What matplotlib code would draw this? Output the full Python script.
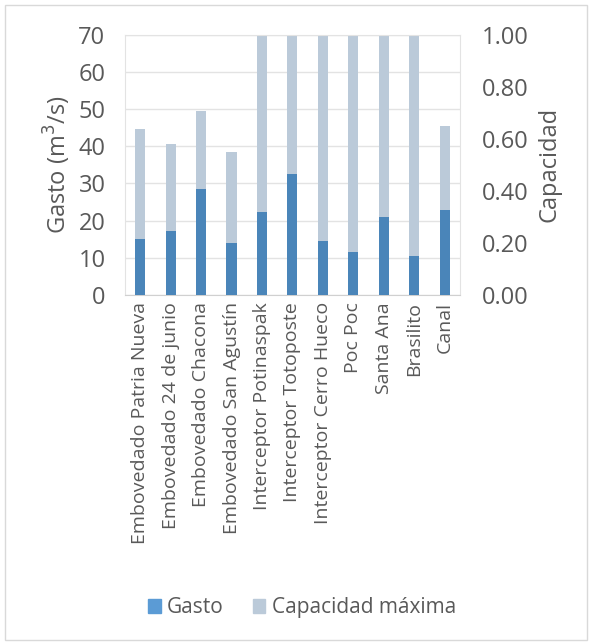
import matplotlib.pyplot as plt
from matplotlib.patches import Patch, Rectangle

plt.rcParams['font.family'] = ['Open Sans', 'DejaVu Sans']

categorias = ['Embovedado Patria Nueva', 'Embovedado 24 de junio', 'Embovedado Chacona',
              'Embovedado San Agustín', 'Interceptor Potinaspak', 'Interceptor Totoposte',
              'Interceptor Cerro Hueco', 'Poc Poc', 'Santa Ana', 'Brasilito', 'Canal']
gasto = [15.1, 17.1, 28.6, 14.0, 22.3, 32.5, 14.6, 11.5, 21.0, 10.5, 22.8]
capacidad_maxima = [44.7, 40.6, 49.6, 38.5, 70, 70, 70, 70, 70, 70, 45.4]

c_gasto = '#4A85B9'
c_cap = '#BBCAD9'
txt = '#595959'

fig = plt.figure(figsize=(5.92, 6.44), dpi=100)
ax = fig.add_axes([0.211, 0.542, 0.566, 0.404])
x = range(len(categorias))
ax.bar(x, capacidad_maxima, width=0.33, color=c_cap, zorder=2)
ax.bar(x, gasto, width=0.33, color=c_gasto, zorder=3)
ax.set_ylim(0, 70)
ax.set_xlim(-0.5, len(categorias) - 0.5)
ax.set_yticks(range(0, 71, 10))
ax.yaxis.grid(True, color='#E3E3E3', lw=1, zorder=0)
ax.set_axisbelow(True)
ax.set_xticks(list(x))
ax.set_xticklabels(categorias, rotation=90, fontsize=14, color=txt)
ax.tick_params(axis='y', labelsize=17, colors=txt, length=0, pad=14)
ax.tick_params(axis='x', length=0, pad=5)
ax.set_ylabel('Gasto (m$^3$/s)', fontsize=17, color=txt, labelpad=4)
for s in ax.spines.values():
    s.set_color('#E3E3E3')
ax.spines['bottom'].set_color('#D0D0D0')

ax2 = ax.twinx()
ax2.set_ylim(0, 1)
ax2.set_yticks([0, 0.2, 0.4, 0.6, 0.8, 1.0])
ax2.set_yticklabels(['0.00', '0.20', '0.40', '0.60', '0.80', '1.00'])
ax2.tick_params(axis='y', labelsize=17, colors=txt, length=0, pad=16)
ax2.set_ylabel('Capacidad', fontsize=17, color=txt, labelpad=6)
for s in ax2.spines.values():
    s.set_visible(False)

handles = [Patch(color='#5B9BD5', label='Gasto'), Patch(color=c_cap, label='Capacidad máxima')]
fig.legend(handles=handles, loc='center', bbox_to_anchor=(0.51, 0.056), ncol=2, frameon=False,
           fontsize=15, labelcolor=txt, handlelength=0.6, handleheight=0.6, handletextpad=0.3,
           columnspacing=1.4)

fig.patches.append(Rectangle((0.008, 0.006), 0.984, 0.986, transform=fig.transFigure,
                             fill=False, edgecolor='#D9D9D9', lw=1))

fig.savefig('out.png', dpi=100)
